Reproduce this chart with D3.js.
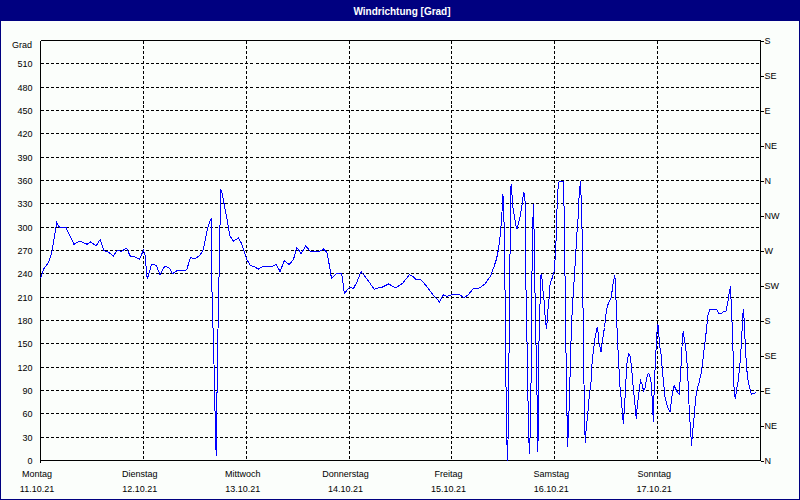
<!DOCTYPE html>
<html><head><meta charset="utf-8">
<script src="https://cdn.jsdelivr.net/npm/d3@7"></script>
<style>
html,body{margin:0;padding:0;background:#fbfefb;}
svg{display:block;}
text{font-family:"Liberation Sans",Arial,sans-serif;}
</style></head>
<body>
<svg id="chart" width="800" height="500"></svg>
<script>
const title = "Windrichtung [Grad]";
const unitLabel = "Grad";
const dayNames = ["Montag","Dienstag","Mittwoch","Donnerstag","Freitag","Samstag","Sonntag"];
const dayDates = ["11.10.21","12.10.21","13.10.21","14.10.21","15.10.21","16.10.21","17.10.21"];
const leftTicks = [0,30,60,90,120,150,180,210,240,270,300,330,360,390,420,450,480,510];
const rightTicks = [0,45,90,135,180,225,270,315,360,405,450,495,540];
const rightNames = ["N","NE","E","SE","S","SW","W","NW","N","NE","E","SE","S"];
// hours since Monday 00:00
const hours = [0,0.7,1.8,2.6,3.8,4.5,6.0,7.8,9.2,10.0,
10.9,11.7,13.0,13.9,14.8,15.8,17.0,17.9,18.9,20.1,
20.9,22.0,23.1,24.0,24.4,24.9,25.9,27.0,27.9,29.0,
30.1,30.8,31.8,34.1,35.0,36.0,37.2,38.0,38.8,39.2,
39.9,40.0,40.3,40.6,40.8,41.0,41.1,41.3,41.6,41.9,
42.0,42.3,43.3,44.2,45.0,46.2,46.9,48.1,48.9,50.0,
50.8,52.0,53.9,55.0,55.9,56.9,58.0,59.0,59.8,60.8,
61.9,62.9,65.2,66.0,66.8,67.4,67.9,69.0,70.3,70.9,
72.2,73.0,73.8,74.8,76.1,77.9,78.8,79.8,81.2,82.9,
84.5,86.1,86.8,87.6,88.7,90.1,91.7,93.1,94.0,94.8,
95.9,96.9,97.9,98.8,99.8,101.0,102.2,103.7,105.0,105.8,
106.4,106.8,107.2,107.5,107.8,107.9,108.2,108.4,108.5,108.8,
108.9,109.2,109.3,109.5,109.6,109.8,109.9,110.1,110.3,110.6,
110.9,111.2,111.5,111.9,112.3,112.7,112.9,113.1,113.2,113.4,
113.7,113.8,114.1,114.3,114.5,114.6,114.8,115.0,115.2,115.4,
115.6,115.8,115.9,116.0,116.2,116.3,116.6,116.8,117.1,117.3,
117.6,117.7,117.9,118.1,118.3,118.7,118.9,119.3,119.7,119.9,
120.1,120.3,120.4,120.7,121.0,122.0,122.2,122.4,122.6,122.8,
123.0,123.3,123.6,123.9,124.3,124.7,125.1,125.5,125.7,126.0,
126.2,126.4,126.5,126.7,126.9,127.1,127.3,127.7,128.1,128.5,
128.6,129.0,129.4,129.8,130.0,130.3,130.8,131.1,131.6,132.0,
132.3,132.7,133.1,133.4,133.7,134.0,134.2,134.4,134.8,135.2,
135.6,136.0,136.4,136.8,137.2,137.6,137.9,138.3,138.7,139.0,
139.3,139.7,140.0,140.3,140.7,141.1,141.4,141.8,142.1,142.5,
142.8,143.0,143.2,143.5,143.8,144.0,144.2,144.4,144.8,145.1,
145.4,145.7,146.1,146.5,146.9,147.3,147.7,147.9,148.2,148.6,
149.0,149.2,149.4,149.6,149.8,150.0,150.2,150.5,150.9,151.2,
151.4,151.7,151.9,152.2,152.5,152.9,153.3,153.7,154.1,154.5,
154.9,155.2,155.5,155.8,156.2,157.8,158.3,158.8,159.3,159.9,
160.3,160.7,161.0,161.1,161.5,161.8,162.1,162.4,162.8,163.2,
163.6,163.8,164.0,164.2,164.5,164.9,165.2,165.6,165.9,166.3,
166.9];
const direction = [234,246,254,266,306,299,299,278,282,280,
278,281,276,284,270,268,263,270,269,273,
263,262,259,270,264,233,252,251,239,250,
247,240,244,245,261,259,264,271,294,303,
312,221,161,101,39,6,51,135,221,306,
349,345,317,289,282,286,279,259,251,249,
246,250,249,252,243,257,252,258,274,266,
276,269,269,272,268,251,234,240,240,215,
223,221,229,243,234,220,222,223,227,222,
228,239,237,233,233,224,212,204,213,211,
213,214,213,209,213,221,221,227,237,249,
259,270,286,304,330,342,300,214,128,45,
0,43,130,214,308,356,347,338,321,315,
302,298,305,313,326,344,343,330,249,180,
111,45,9,43,116,210,287,330,287,210,
150,129,43,11,43,150,210,240,231,214,
201,188,176,169,188,210,227,233,240,244,
261,283,308,347,359,359,317,231,146,73,
17,60,116,176,214,248,287,317,343,359,
330,287,231,150,64,23,39,60,86,103,
120,141,158,169,171,152,139,154,171,191,
199,204,208,219,231,238,223,184,137,96,
73,47,81,124,137,134,120,94,73,54,
73,90,103,99,90,94,105,112,111,99,
73,49,94,129,161,176,171,150,137,116,
99,82,73,66,63,81,94,96,92,88,
85,99,116,137,159,167,156,148,122,90,
60,39,19,39,56,81,94,101,111,126,
146,159,174,189,194,194,189,189,191,191,
201,216,224,210,159,96,79,90,103,124,
154,182,195,180,141,111,99,91,85,86,
87];

const svg = d3.select("#chart");
const W = 800, H = 500;
const L = 40, R = 760, T = 40, B = 460;
const x = d3.scaleLinear().domain([0, 168]).range([L, R]);
const y = d3.scaleLinear().domain([0, 540]).range([B, T]);
const px = v => Math.round(v) + 0.5;
const navy = "#000080";

svg.append("rect").attr("width", W).attr("height", H).attr("fill", "#fbfefb");
// title bar
svg.append("rect").attr("x", 0).attr("y", 0).attr("width", W).attr("height", 21).attr("fill", navy);
svg.append("text").attr("x", 402).attr("y", 11).attr("text-anchor", "middle")
  .attr("dominant-baseline", "central").attr("fill", "#fff")
  .attr("font-size", "10px").attr("font-weight", "bold").text(title);
// outer frame
svg.append("rect").attr("x", 0.5).attr("y", 0.5).attr("width", W - 1).attr("height", H - 1)
  .attr("fill", "none").attr("stroke", navy).attr("stroke-width", 1);

const grid = svg.append("g").attr("shape-rendering", "crispEdges")
  .attr("stroke", "#000").attr("stroke-dasharray", "3,2").attr("stroke-width", 1);
grid.selectAll("line.h").data(leftTicks.filter(d => d > 0)).join("line")
  .attr("x1", px(L)).attr("x2", px(R)).attr("y1", d => px(y(d))).attr("y2", d => px(y(d)));
grid.selectAll("line.v").data(d3.range(1, 7)).join("line")
  .attr("y1", px(T)).attr("y2", px(B)).attr("x1", d => px(x(d * 24))).attr("x2", d => px(x(d * 24)));

// left axis
const yAxisL = d3.axisLeft(y).tickValues(leftTicks).tickSize(0).tickPadding(8);
const gL = svg.append("g").attr("transform", `translate(${px(L)},0.5)`).call(yAxisL);
gL.select(".domain").remove();
gL.selectAll("text").attr("font-size", "9px").attr("font-family", "Liberation Sans, Arial, sans-serif").attr("fill", "#000");

// right axis
const yAxisR = d3.axisRight(y).tickValues(rightTicks).tickSize(3).tickPadding(1)
  .tickFormat((d, i) => rightNames[i]);
const gR = svg.append("g").attr("transform", `translate(${px(R)},0.5)`).call(yAxisR);
gR.select(".domain").remove();
gR.selectAll("line").attr("shape-rendering", "crispEdges").attr("stroke", "#000");
gR.selectAll("text").attr("font-size", "9px").attr("font-family", "Liberation Sans, Arial, sans-serif").attr("fill", "#000");

// frame lines of plot
const frame = svg.append("g").attr("stroke", "#000").attr("shape-rendering", "crispEdges");
frame.append("line").attr("x1", px(L)).attr("x2", px(L)).attr("y1", px(T)).attr("y2", px(B) + 2);
frame.append("line").attr("x1", px(R)).attr("x2", px(R)).attr("y1", px(T)).attr("y2", px(B));
frame.append("line").attr("x1", px(L)).attr("x2", px(R)).attr("y1", px(T)).attr("y2", px(T));
frame.append("line").attr("x1", px(L)).attr("x2", px(R)).attr("y1", px(B)).attr("y2", px(B));

// unit label
svg.append("text").attr("x", 32).attr("y", 45).attr("text-anchor", "end")
  .attr("dominant-baseline", "central").attr("font-size", "9px").text(unitLabel);

// bottom labels
const days = d3.range(7);
const gB = svg.append("g").attr("font-size", "9px").attr("text-anchor", "middle");
gB.selectAll("text.n").data(days).join("text").attr("class", "n")
  .attr("x", d => x(d * 24) - 3).attr("y", 474).attr("dominant-baseline", "central")
  .text(d => dayNames[d]);
gB.selectAll("text.d").data(days).join("text").attr("class", "d")
  .attr("x", d => x(d * 24) - 3).attr("y", 489).attr("dominant-baseline", "central")
  .text(d => dayDates[d]);

// data line
const data = d3.zip(hours, direction);
const line = d3.line().x(d => x(d[0]) + 0.5).y(d => y(d[1]) + 0.5);
svg.append("path").datum(data).attr("d", line).attr("fill", "none")
  .attr("stroke", "#0000ff").attr("stroke-width", 1).attr("shape-rendering", "crispEdges");
</script>
</body></html>
